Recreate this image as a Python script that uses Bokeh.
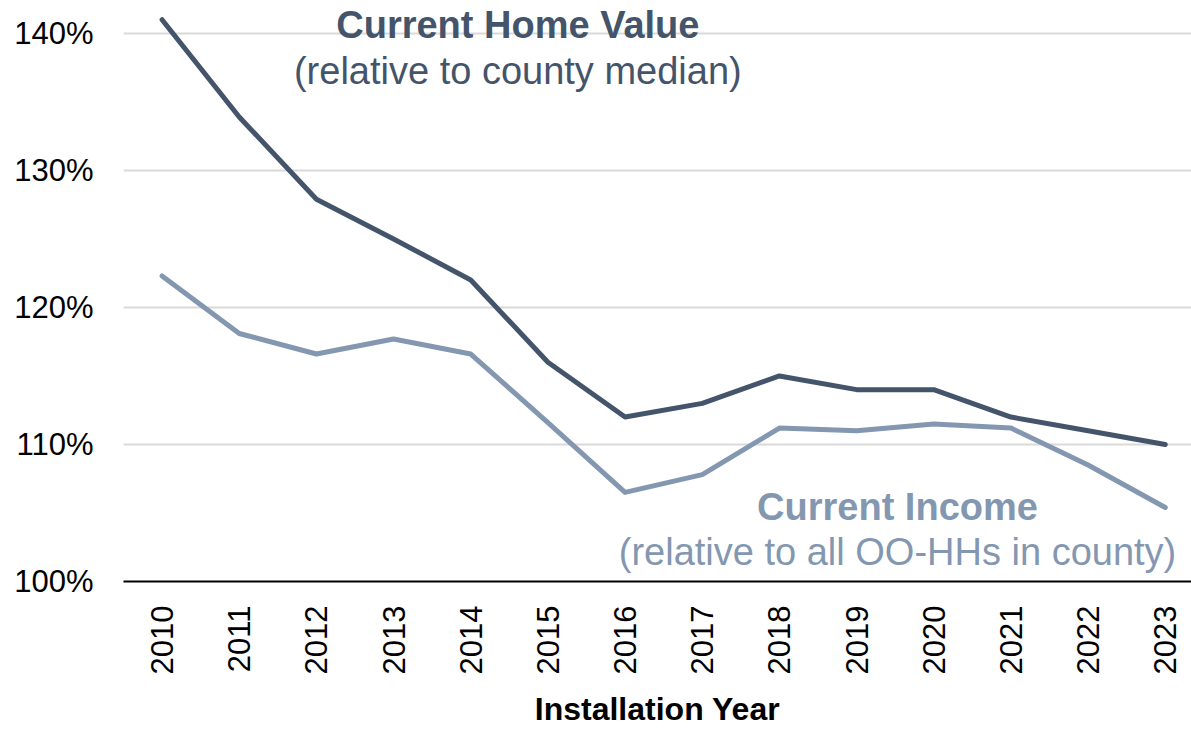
import math
from bokeh.plotting import figure
from bokeh.models import Range1d, FixedTicker, PrintfTickFormatter, Label, ColumnDataSource
from bokeh.embed import file_html
from bokeh.resources import INLINE

years = [2010, 2011, 2012, 2013, 2014, 2015, 2016, 2017, 2018, 2019, 2020, 2021, 2022, 2023]
home_value = [141.0, 133.9, 127.9, 125.0, 122.0, 116.0, 112.0, 113.0, 115.0, 114.0, 114.0, 112.0, 111.0, 110.0]
income = [122.3, 118.1, 116.6, 117.7, 116.6, 111.6, 106.5, 107.8, 111.2, 111.0, 111.5, 111.2, 108.5, 105.4]
y_ticks = [100, 110, 120, 130, 140]

HOME_COLOR = "#44546A"
INC_COLOR = "#8497B0"
FONT = "Liberation Sans"

p = figure(width=1191, height=730, output_backend="svg", toolbar_location=None,
           x_range=Range1d(2009.5, 2023.34), y_range=Range1d(100, 142.4),
           min_border_left=123, min_border_right=0, min_border_top=0, min_border_bottom=0)
p.outline_line_color = None
p.background_fill_color = "white"
p.border_fill_color = "white"

src = ColumnDataSource(dict(year=years, home=home_value, inc=income))
p.line("year", "inc", source=src, line_color=INC_COLOR, line_width=5, line_cap="round", line_join="round")
p.line("year", "home", source=src, line_color=HOME_COLOR, line_width=5, line_cap="round", line_join="round")

# axes
p.xaxis.ticker = FixedTicker(ticks=years)
p.xaxis.major_label_orientation = math.pi / 2
p.xaxis.major_label_text_font = FONT
p.xaxis.major_label_text_font_size = "31px"
p.xaxis.major_label_text_color = "black"
p.xaxis.major_label_standoff = 18
p.xaxis.major_tick_line_color = None
p.xaxis.minor_tick_line_color = None
p.xaxis.axis_line_color = "black"
p.xaxis.axis_line_width = 2
p.xaxis.axis_label = "Installation Year"
p.xaxis.axis_label_text_font = FONT
p.xaxis.axis_label_text_font_size = "32px"
p.xaxis.axis_label_text_font_style = "bold"
p.xaxis.axis_label_text_color = "black"
p.xaxis.axis_label_standoff = 14

p.yaxis.ticker = FixedTicker(ticks=y_ticks)
p.yaxis.formatter = PrintfTickFormatter(format="%d%%")
p.yaxis.major_label_text_font = FONT
p.yaxis.major_label_text_font_size = "31px"
p.yaxis.major_label_text_color = "black"
p.yaxis.major_label_standoff = 24
p.yaxis.major_tick_line_color = None
p.yaxis.minor_tick_line_color = None
p.yaxis.axis_line_color = None

p.xgrid.grid_line_color = None
p.ygrid.grid_line_color = "#D9D9D9"
p.ygrid.grid_line_width = 2

# annotations
p.add_layout(Label(x=2014.61, y=140.58, text="Current Home Value", text_font=FONT,
                   text_font_size="38px", text_font_style="bold", text_color=HOME_COLOR,
                   text_align="center", text_baseline="middle"))
p.add_layout(Label(x=2014.61, y=137.23, text="(relative to county median)", text_font=FONT,
                   text_font_size="38px", text_color=HOME_COLOR,
                   text_align="center", text_baseline="middle"))
p.add_layout(Label(x=2019.53, y=105.47, text="Current Income", text_font=FONT,
                   text_font_size="38px", text_font_style="bold", text_color=INC_COLOR,
                   text_align="center", text_baseline="middle"))
p.add_layout(Label(x=2019.53, y=102.12, text="(relative to all OO-HHs in county)", text_font=FONT,
                   text_font_size="38px", text_color=INC_COLOR,
                   text_align="center", text_baseline="middle"))

open("out.html", "w").write(file_html(p, INLINE))
